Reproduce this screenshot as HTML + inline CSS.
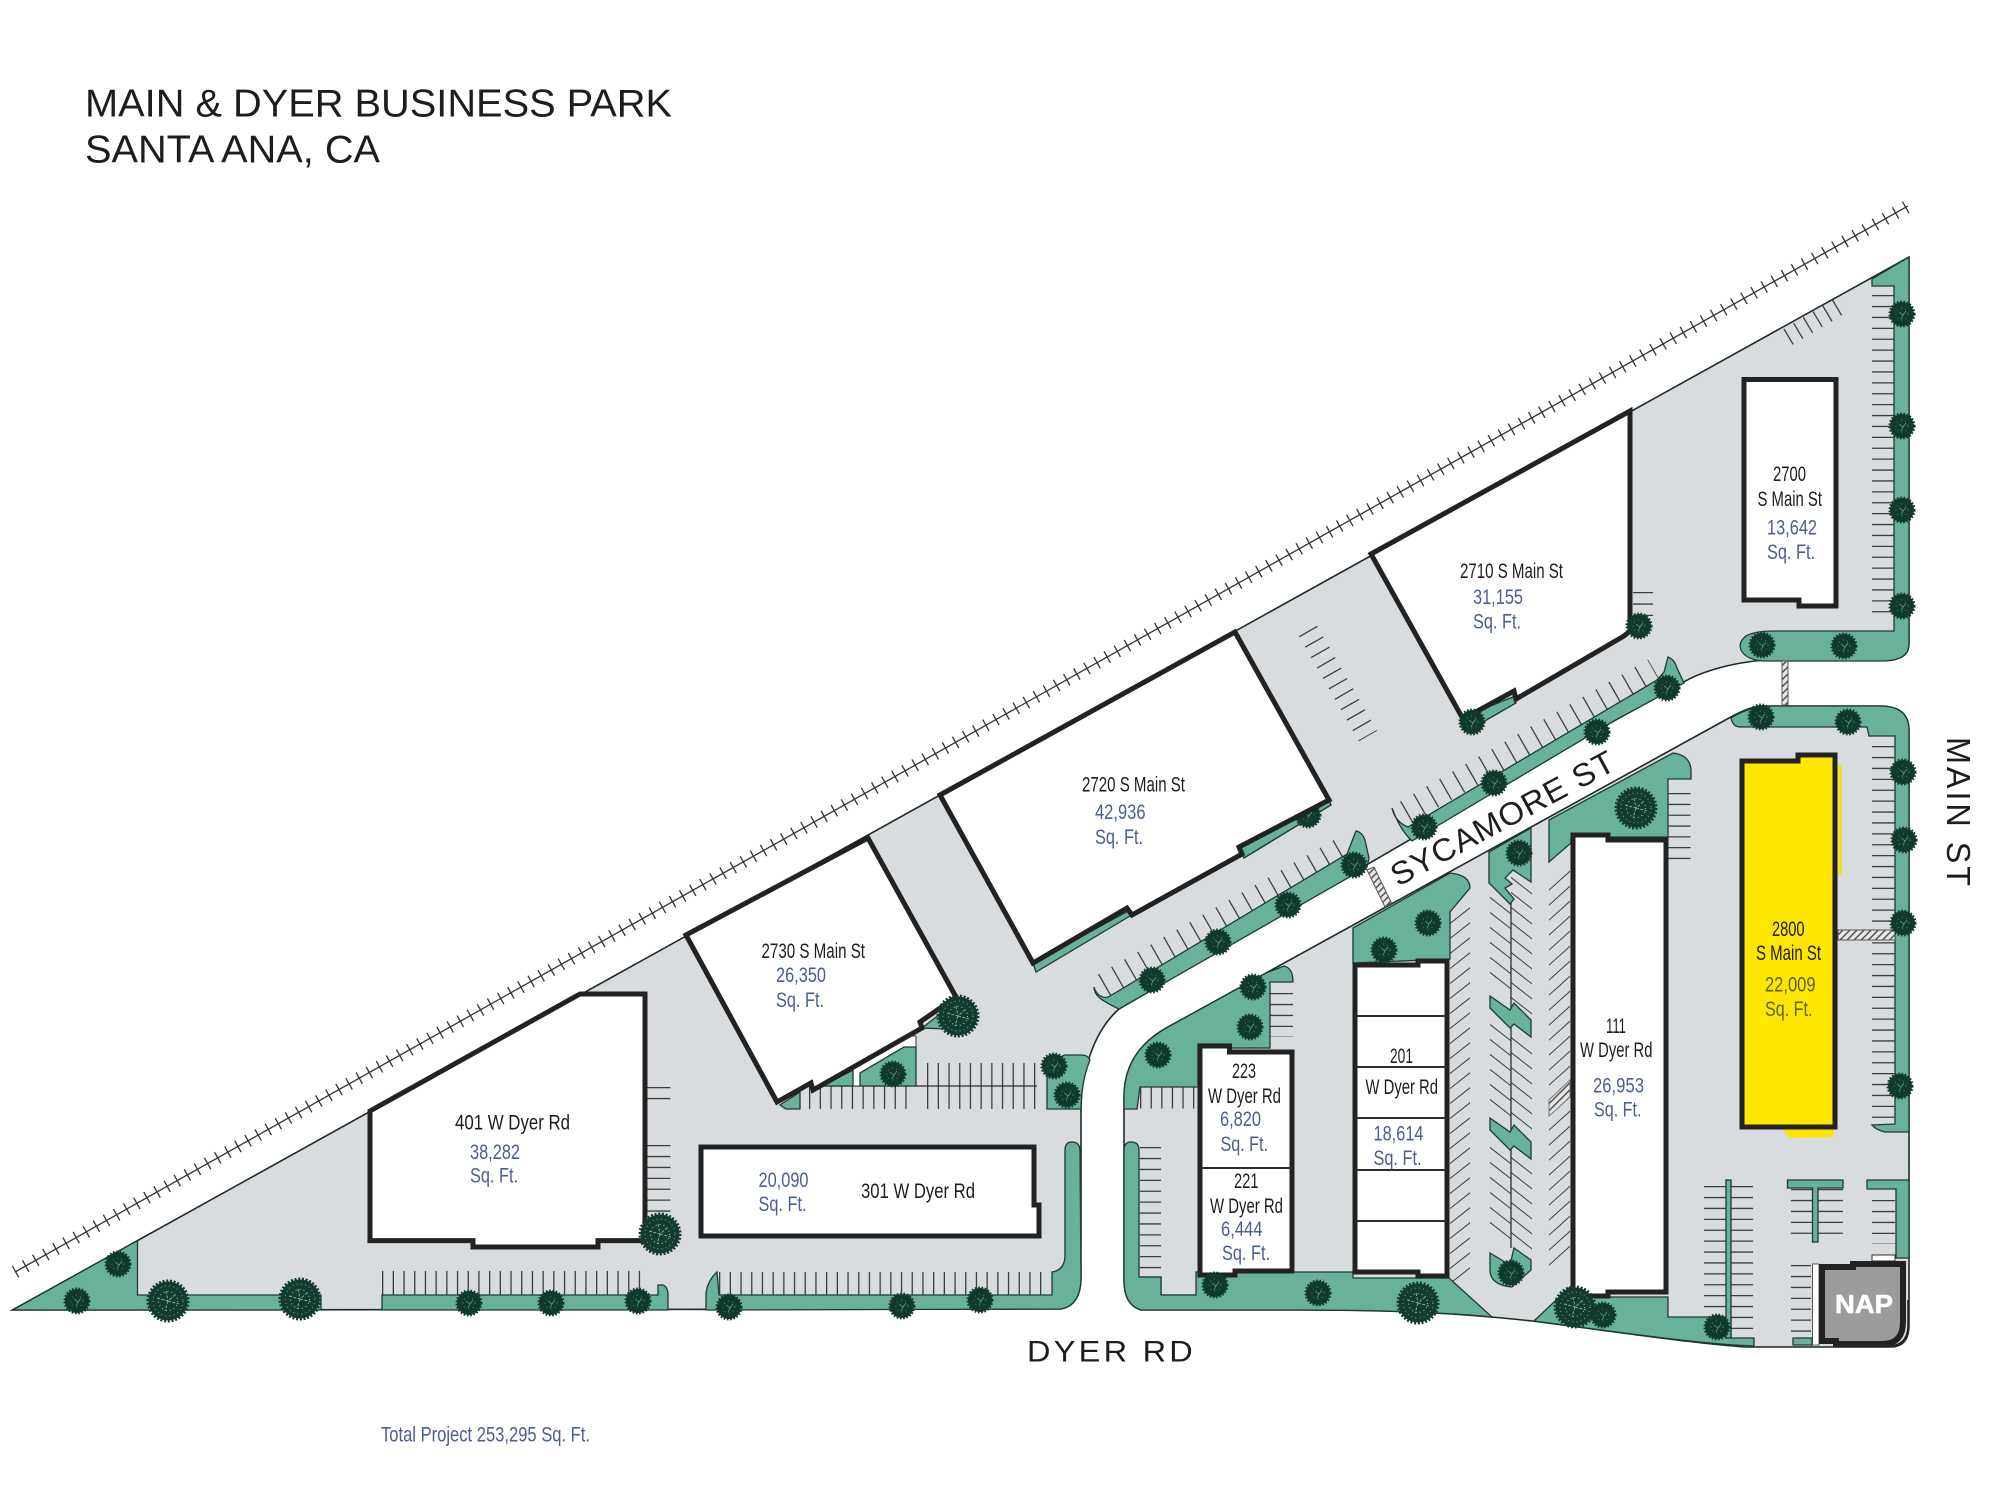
<!DOCTYPE html>
<html><head><meta charset="utf-8"><title>Main &amp; Dyer Business Park</title>
<style>
html,body{margin:0;padding:0;background:#fff}
svg{display:block}
text{font-family:"Liberation Sans",sans-serif}
.k{font-size:21px;fill:#1d1d1d}
.b{font-size:21px;fill:#4c5e8e}
.o{font-size:21px;fill:#5f6118}
.p{fill:#d9dcde;stroke:#1d2a28;stroke-width:1.6}
.g{fill:#68b19b;stroke:#1f3a33;stroke-width:1.3}
.h{fill:#fff;stroke:#222;stroke-width:5;stroke-linejoin:miter}
.s{fill:none;stroke:#3c3f40}
.l{fill:none;stroke:#2b2f2f;stroke-width:1.3}
</style></head><body>
<svg xmlns="http://www.w3.org/2000/svg" width="2000" height="1486" viewBox="0 0 2000 1486">
<defs>
<pattern id="ht" patternUnits="userSpaceOnUse" width="5" height="5" patternTransform="rotate(45)"><rect width="5" height="5" fill="#e6e7e7"/><rect width="1.5" height="5" fill="#555"/></pattern>
<g id="t"><circle r="12" fill="#103a2c"/><circle r="12" fill="none" stroke="#103a2c" stroke-width="3" stroke-dasharray="1.6 1.6"/><circle r="6" fill="none" stroke="#4f8f7b" stroke-width=".9" stroke-dasharray="1 3.5"/><path d="M-3-2L1 1L4-3M1 1L-1 5" stroke="#6aa592" stroke-width=".7" fill="none"/></g>
<g id="T"><circle r="19.5" fill="#143b2f"/><circle r="19.5" fill="none" stroke="#143b2f" stroke-width="4" stroke-dasharray="2 1.6"/><circle r="15" fill="none" stroke="#6bb39d" stroke-width="1" stroke-dasharray="1 3.2"/><circle r="9.5" fill="none" stroke="#a9cfc2" stroke-width="1" stroke-dasharray="1 3"/><path d="M-11-3L0 0L8-7M0 0L-3 10M0 0L11 3M-2-10L0 0" stroke="#7fb8a6" stroke-width=".9" stroke-dasharray="3 1.5" fill="none"/></g>
</defs>
<rect width="2000" height="1486" fill="#fff"/>

<!-- railroad -->
<path d="M15 1272L1908 206" fill="none" stroke="#333" stroke-width="1.3"/>
<path d="M15 1272L1908 206" fill="none" stroke="#333" stroke-width="13" stroke-dasharray="1.3 10.3"/>

<!-- parcels -->
<path class="p" d="M12.5 1310L1909 257V644Q1909 660 1885 660H1764C1730 663 1700 672 1682 683L1612 722L1119 1009C1095 1030 1081 1070 1081 1110V1277Q1081 1305 1061 1309Z"/>
<path class="p" d="M1141 1310Q1124 1305 1124 1280V1097C1124 1070 1135 1045 1168 1027L1729 718C1745 709 1755 706 1764 706H1880Q1909 706 1909 730V1325Q1909 1347 1890 1347H1746C1700 1344 1640 1335 1532 1321C1450 1312 1380 1310 1300 1310Z"/>

<!-- parking stalls -->
<g class="s">
<path d="M382 1283H648" stroke-width="24" stroke-dasharray="1.3 9.4"/>
<path d="M719 1283.5H1043" stroke-width="23" stroke-dasharray="1.3 9.4"/>
<path d="M809 1097.5H916" stroke-width="23" stroke-dasharray="1.3 9.4"/>
<path d="M927 1086H1038" stroke-width="46" stroke-dasharray="1.3 9.4"/>
<path d="M1140 1097.5H1195" stroke-width="22" stroke-dasharray="1.3 9.3"/>
<path d="M658 1087V1100" stroke-width="25" stroke-dasharray="1.3 9.6"/>
<path d="M658 1145V1213" stroke-width="25" stroke-dasharray="1.3 9.6"/>
<path d="M1150.5 1147V1278" stroke-width="21" stroke-dasharray="1.3 9.6"/>
<path d="M1281.5 993V1037" stroke-width="23" stroke-dasharray="1.3 9.6"/>
<path d="M1643 592V616" stroke-width="20" stroke-dasharray="1.3 10.1"/>
<path d="M1883 295V622" stroke-width="22" stroke-dasharray="1.3 9.6"/>
<path d="M1883.5 746V1124" stroke-width="23" stroke-dasharray="1.3 9.6"/>
<path d="M1679 793V866" stroke-width="23" stroke-dasharray="1.3 9.5"/>
<path d="M1728.5 1186V1330" stroke-width="49" stroke-dasharray="1.3 9.6"/>
<path d="M1817 1189V1243" stroke-width="52" stroke-dasharray="1.3 9.6"/>
<path d="M1883.5 1200V1244" stroke-width="23" stroke-dasharray="1.3 9.6"/>
<path d="M1801 1265V1335" stroke-width="20" stroke-dasharray="1.3 9.6"/>
<path d="M1788 337L1845 303" stroke-width="18" stroke-dasharray="1.3 10"/>
<path d="M1308 631L1368 736" stroke-width="21" stroke-dasharray="1.3 10.7"/>
<path d="M1104 985L1344 848" stroke-width="24" stroke-dasharray="1.3 13.7"/>
<path d="M1406 812L1654 670" stroke-width="24" stroke-dasharray="1.3 13.7"/>
<g transform="translate(1460 0) skewY(-38)"><path d="M0 915V1283" stroke-width="20" stroke-dasharray="1.3 13.7"/></g>
<g transform="translate(1559.5 0) skewY(-42)"><path d="M0 880V1270" stroke-width="21" stroke-dasharray="1.3 13.7"/></g>
<g transform="translate(1500.5 0) skewY(38)"><path d="M0 905V990M0 1032V1112M0 1155V1245" stroke-width="21" stroke-dasharray="1.3 13.7"/></g>
<g transform="translate(1521.5 0) skewY(38)"><path d="M0 885V1010M0 1045V1130M0 1165V1250" stroke-width="21" stroke-dasharray="1.3 13.7"/></g>
</g>
<path class="l" d="M1511 897V1248M800 1086H1037M1124 1086H1198M1140 1277H1161V1295H1196"/>

<!-- landscape -->
<path class="g" d="M12.5 1310L137.5 1240.6V1295H321V1310Z"/>
<path class="g" d="M382 1310V1295H658V1285H663Q668 1287 668 1295V1310Z"/>
<path class="g" d="M706 1310V1293Q708 1280 717 1272L719 1295H1052V1272Q1065 1270 1065 1255V1150Q1065 1142 1072 1142Q1079.5 1142 1080 1150L1081 1277Q1081 1305 1061 1309Z"/>
<path class="g" d="M1047 1109V1062L1065 1055H1082Q1088 1055 1090 1060C1084 1075 1081 1090 1081 1109Z"/>
<path fill="#fff" stroke="#333" stroke-width="1" d="M853 1086V1069L905 1036H916V1047H904L860 1073V1086Z"/>
<path class="g" d="M860 1086V1073L904 1047H916V1086Z"/>
<path class="g" d="M780 1105L800 1092V1109H786Z"/>
<path class="g" d="M822 1086L853 1070V1086Z"/>
<path class="g" d="M922 1028L958 1000L970 1010V1030Z"/>
<path class="g" d="M1331 805L1244 858L1239 848L1328 798Z"/>
<path class="g" d="M1128 911L1130 916L1036 972L1033 963Z"/>
<path class="g" d="M1513 697L1516 703L1483 722L1475 712Z"/>
<path class="g" d="M1094 987C1096 995 1104 1000 1110 996L1347 854L1356 831Q1362 832 1365 840L1369 858L1367 867L1119 1009C1100 1000 1094 995 1094 987Z"/>
<path class="g" d="M1392 808Q1395 822 1408 827L1657 680L1664 672L1668 657Q1675 660 1677 668L1684 683L1612 722L1412 841Q1400 830 1392 808Z"/>
<path class="g" d="M1909 257L1872 279V286H1894V631H1773Q1755 631 1746 636Q1738 642 1741 650Q1746 660 1764 661H1885Q1909 660 1909 644Z"/>
<path class="g" d="M1731 718Q1745 709 1764 706H1880Q1909 706 1909 730V1132H1885Q1876 1130 1872 1125L1895 1124V736H1869L1867 727H1740Q1733 727 1731 718Z"/>
<path class="g" d="M1124 1109V1097C1124 1070 1135 1045 1168 1027L1266 973L1284 966Q1293 968 1293 982H1270V1048H1229V1044H1198V1087H1140L1137 1109Z"/>
<path class="g" d="M1131 1142Q1139 1142 1139 1150V1277H1161V1295H1196V1272H1353V1278H1449L1492 1317C1440 1312 1380 1310 1300 1310H1141Q1124 1305 1124 1280V1150Q1124 1142 1131 1142Z"/>
<path class="g" d="M1353 963V928L1450 873Q1470 875 1470 888L1450 912V959Z"/>
<path class="g" d="M1549 862V820L1673 753Q1690 755 1691 770V779H1668V837H1571V843Z"/>
<path class="g" d="M1534 1321L1572 1285V1297H1668V1317H1731V1338H1754V1346C1700 1344 1640 1335 1534 1321Z"/>
<path class="g" d="M1793 1345V1338H1812V1345Z"/>
<path class="g" d="M1489 852L1531 828V882L1513 870L1505 878L1512 884L1505 888L1514 899L1510 904L1489 883Z"/>
<path class="g" d="M1490 996L1510 1010L1514 1003L1531 1020V1037L1514 1024L1510 1028L1490 1008Z"/>
<path class="g" d="M1490 1118L1510 1132L1514 1125L1531 1142V1159L1514 1146L1510 1150L1490 1130Z"/>
<path class="g" d="M1490 1253L1510 1265L1514 1248L1531 1260V1270L1512 1287Q1490 1285 1490 1270Z"/>
<rect class="g" x="1726" y="1180" width="5" height="158"/>
<path class="g" d="M1787.5 1180H1843V1188H1818V1242H1812.5V1188H1787.5Z"/>
<path class="g" d="M1867 1180H1909V1258H1896V1189H1867Z"/>
<rect x="1872" y="1255" width="23" height="6" fill="#fff" stroke="#333" stroke-width="1"/>

<!-- crosswalks -->
<rect x="1838" y="930" width="57" height="10" fill="url(#ht)" stroke="#555" stroke-width="1"/>
<rect x="1782" y="661" width="6" height="44" fill="url(#ht)" stroke="#555" stroke-width="1"/>
<path d="M1367 870L1374 867L1391.5 903L1385 907Z" fill="url(#ht)" stroke="#555" stroke-width="1"/>
<path d="M1549 1100L1570 1080V1097L1549 1116Z" fill="url(#ht)" stroke="#777" stroke-width="1"/>

<!-- tree behind the 2720 wall -->
<use href="#t" x="1308" y="815"/>
<path class="h" style="fill:none;stroke-width:0" d="M0 0"/>

<!-- buildings -->
<path class="h" d="M370 1111L580 994H645V1240.6H598V1247H473V1240.6H370Z"/>
<path class="h" d="M701 1147H1034V1205H1039V1236H701Z"/>
<path class="h" d="M686 935L868 838L956 997L920 1022L922 1028L813 1090L811 1083L777 1102Z"/>
<path class="g" d="M1331 805L1244 858L1239 848L1328 798Z" style="fill:none"/>
<path class="h" d="M940 795L1235 632L1329 800L1239 847L1242 854L1132 915L1127 908L1033 963Z"/>
<path class="h" d="M1371 554L1630 411V631L1624 636L1516 699L1514 691L1463 719Z"/>
<path class="h" d="M1744 379.5H1836V606H1799V600H1744Z"/>
<path fill="#e9e13a" d="M1830 765H1842V875H1830Z"/>
<path fill="#ffe600" d="M1778 1125H1834V1137L1790 1138Z"/>
<path class="h" style="fill:#ffe600" d="M1742 761H1798V755H1835V1127H1742Z"/>
<path class="h" d="M1573 835H1608V840H1666V1292H1608V1296H1573Z"/>
<path class="h" d="M1355 965H1418V961H1447V1276H1418V1272H1355Z"/>
<path class="l" style="stroke-width:2" d="M1355 1016H1447M1355 1067H1447M1355 1118H1447M1355 1170H1447M1355 1221H1447"/>
<path class="h" d="M1200 1046H1229.5V1052H1292V1271H1235V1275H1200Z"/>
<path class="l" style="stroke-width:2" d="M1200 1168H1292"/>

<!-- NAP -->
<path fill="#fff" stroke="#333" stroke-width=".8" d="M1812.5 1264H1819V1345H1812.5Z"/>
<path fill="#9b9c9e" stroke="#222" stroke-width="6" d="M1822 1267H1853V1264H1903V1322Q1903 1344 1882 1344H1836V1341H1822Z"/>
<path fill="none" stroke="#222" stroke-width="1.5" d="M1908 1300V1325Q1908 1346 1888 1346"/>

<!-- trees -->
<g>
<use href="#t" x="118" y="1264"/><use href="#t" x="77" y="1301"/><use href="#T" x="168" y="1301"/><use href="#T" x="300" y="1299"/>
<use href="#t" x="469" y="1303"/><use href="#t" x="551" y="1303"/><use href="#t" x="638" y="1301"/><use href="#T" x="660" y="1234"/>
<use href="#t" x="729" y="1307"/><use href="#t" x="902" y="1306"/><use href="#t" x="980" y="1300"/><use href="#t" x="1054" y="1066"/><use href="#t" x="1067" y="1095"/>
<use href="#T" x="958" y="1016"/><use href="#t" x="893" y="1074"/><use href="#t" x="1152" y="980"/><use href="#t" x="1218" y="942"/><use href="#t" x="1288" y="905"/>
<use href="#t" x="1354" y="865"/><use href="#t" x="1424" y="827"/><use href="#t" x="1494" y="783"/><use href="#t" x="1597" y="732"/><use href="#t" x="1667" y="688"/><use href="#t" x="1472" y="722"/>
<use href="#t" x="1158" y="1055"/><use href="#t" x="1253" y="987"/><use href="#t" x="1250" y="1027"/><use href="#t" x="1384" y="950"/><use href="#t" x="1428" y="923"/><use href="#t" x="1519" y="853"/><use href="#T" x="1636" y="808"/>
<use href="#t" x="1761" y="717"/><use href="#t" x="1848" y="722"/><use href="#t" x="1903" y="772"/><use href="#t" x="1904" y="840"/><use href="#t" x="1903" y="923"/><use href="#t" x="1900" y="1086"/>
<use href="#t" x="1902" y="314"/><use href="#t" x="1902" y="426"/><use href="#t" x="1902" y="510"/><use href="#t" x="1902" y="606"/><use href="#t" x="1762" y="645"/><use href="#t" x="1844" y="646"/><use href="#t" x="1639" y="626"/>
<use href="#t" x="1215" y="1285"/><use href="#t" x="1318" y="1293"/><use href="#T" x="1418" y="1303"/><use href="#t" x="1511" y="1273"/><use href="#T" x="1575" y="1307"/><use href="#t" x="1603" y="1315"/><use href="#t" x="1717" y="1327"/>
</g>

<!-- title -->
<text x="85" y="116.5" font-size="39" fill="#1d1d1d" textLength="587" lengthAdjust="spacingAndGlyphs">MAIN &amp; DYER BUSINESS PARK</text>
<text x="85" y="162.5" font-size="39" fill="#1d1d1d" textLength="295" lengthAdjust="spacingAndGlyphs">SANTA ANA, CA</text>

<!-- road names -->
<text x="1027" y="1361.5" font-size="30" fill="#1d1d1d" letter-spacing="3" textLength="169" lengthAdjust="spacingAndGlyphs">DYER RD</text>
<text transform="translate(1398 887) rotate(-28.3)" font-size="32" fill="#1d1d1d" letter-spacing="1" textLength="250" lengthAdjust="spacingAndGlyphs">SYCAMORE ST</text>
<text transform="translate(1947 737) rotate(90)" font-size="33" fill="#1d1d1d" letter-spacing="3" textLength="152" lengthAdjust="spacingAndGlyphs">MAIN ST</text>

<!-- labels -->
<text class="k" x="455" y="1129.5" textLength="115" lengthAdjust="spacingAndGlyphs">401 W Dyer Rd</text>
<text class="b" x="470" y="1159" textLength="50" lengthAdjust="spacingAndGlyphs">38,282</text>
<text class="b" x="470" y="1182.5" textLength="48" lengthAdjust="spacingAndGlyphs">Sq. Ft.</text>
<text class="b" x="381" y="1441.5" textLength="209" lengthAdjust="spacingAndGlyphs">Total Project 253,295 Sq. Ft.</text>

<text class="k" x="861" y="1198" textLength="114" lengthAdjust="spacingAndGlyphs">301 W Dyer Rd</text>
<text class="b" x="758.5" y="1187" textLength="50" lengthAdjust="spacingAndGlyphs">20,090</text>
<text class="b" x="758.5" y="1211" textLength="48" lengthAdjust="spacingAndGlyphs">Sq. Ft.</text>

<text class="k" x="761.5" y="958" textLength="103.5" lengthAdjust="spacingAndGlyphs">2730 S Main St</text>
<text class="b" x="776" y="982" textLength="50" lengthAdjust="spacingAndGlyphs">26,350</text>
<text class="b" x="776" y="1007" textLength="48" lengthAdjust="spacingAndGlyphs">Sq. Ft.</text>

<text class="k" x="1082" y="791.5" textLength="103" lengthAdjust="spacingAndGlyphs">2720 S Main St</text>
<text class="b" x="1095" y="819" textLength="50.5" lengthAdjust="spacingAndGlyphs">42,936</text>
<text class="b" x="1095" y="844" textLength="48" lengthAdjust="spacingAndGlyphs">Sq. Ft.</text>

<text class="k" x="1460" y="578" textLength="103" lengthAdjust="spacingAndGlyphs">2710 S Main St</text>
<text class="b" x="1473" y="604" textLength="50" lengthAdjust="spacingAndGlyphs">31,155</text>
<text class="b" x="1473" y="628.5" textLength="48" lengthAdjust="spacingAndGlyphs">Sq. Ft.</text>

<text class="k" x="1773" y="481" textLength="33" lengthAdjust="spacingAndGlyphs">2700</text>
<text class="k" x="1757.5" y="506" textLength="64.5" lengthAdjust="spacingAndGlyphs">S Main St</text>
<text class="b" x="1767" y="534.5" textLength="50" lengthAdjust="spacingAndGlyphs">13,642</text>
<text class="b" x="1767" y="559" textLength="48" lengthAdjust="spacingAndGlyphs">Sq. Ft.</text>

<text class="k" x="1772" y="936" textLength="32.5" lengthAdjust="spacingAndGlyphs">2800</text>
<text class="k" x="1756" y="960" textLength="65" lengthAdjust="spacingAndGlyphs">S Main St</text>
<text class="o" x="1765" y="991.5" textLength="50.5" lengthAdjust="spacingAndGlyphs">22,009</text>
<text class="o" x="1765" y="1016" textLength="47.5" lengthAdjust="spacingAndGlyphs">Sq. Ft.</text>

<text class="k" x="1606" y="1033" textLength="20" lengthAdjust="spacingAndGlyphs">111</text>
<text class="k" x="1580" y="1057" textLength="72.5" lengthAdjust="spacingAndGlyphs">W Dyer Rd</text>
<text class="b" x="1593" y="1092.5" textLength="51" lengthAdjust="spacingAndGlyphs">26,953</text>
<text class="b" x="1594" y="1116.5" textLength="47.5" lengthAdjust="spacingAndGlyphs">Sq. Ft.</text>

<text class="k" x="1390" y="1063" textLength="23" lengthAdjust="spacingAndGlyphs">201</text>
<text class="k" x="1365.5" y="1094" textLength="72.5" lengthAdjust="spacingAndGlyphs">W Dyer Rd</text>
<text class="b" x="1373.5" y="1140.5" textLength="50" lengthAdjust="spacingAndGlyphs">18,614</text>
<text class="b" x="1373.5" y="1165" textLength="48" lengthAdjust="spacingAndGlyphs">Sq. Ft.</text>

<text class="k" x="1232" y="1078" textLength="24" lengthAdjust="spacingAndGlyphs">223</text>
<text class="k" x="1208" y="1103" textLength="73" lengthAdjust="spacingAndGlyphs">W Dyer Rd</text>
<text class="b" x="1220" y="1126" textLength="41" lengthAdjust="spacingAndGlyphs">6,820</text>
<text class="b" x="1220.5" y="1151" textLength="47.5" lengthAdjust="spacingAndGlyphs">Sq. Ft.</text>

<text class="k" x="1234" y="1188" textLength="24.5" lengthAdjust="spacingAndGlyphs">221</text>
<text class="k" x="1210" y="1213" textLength="73" lengthAdjust="spacingAndGlyphs">W Dyer Rd</text>
<text class="b" x="1221" y="1236" textLength="41.5" lengthAdjust="spacingAndGlyphs">6,444</text>
<text class="b" x="1222" y="1260" textLength="48" lengthAdjust="spacingAndGlyphs">Sq. Ft.</text>

<text x="1835" y="1313" font-size="26" font-weight="bold" fill="#fff" stroke="#fff" stroke-width=".6" textLength="58" lengthAdjust="spacingAndGlyphs">NAP</text>
</svg>
</body></html>
